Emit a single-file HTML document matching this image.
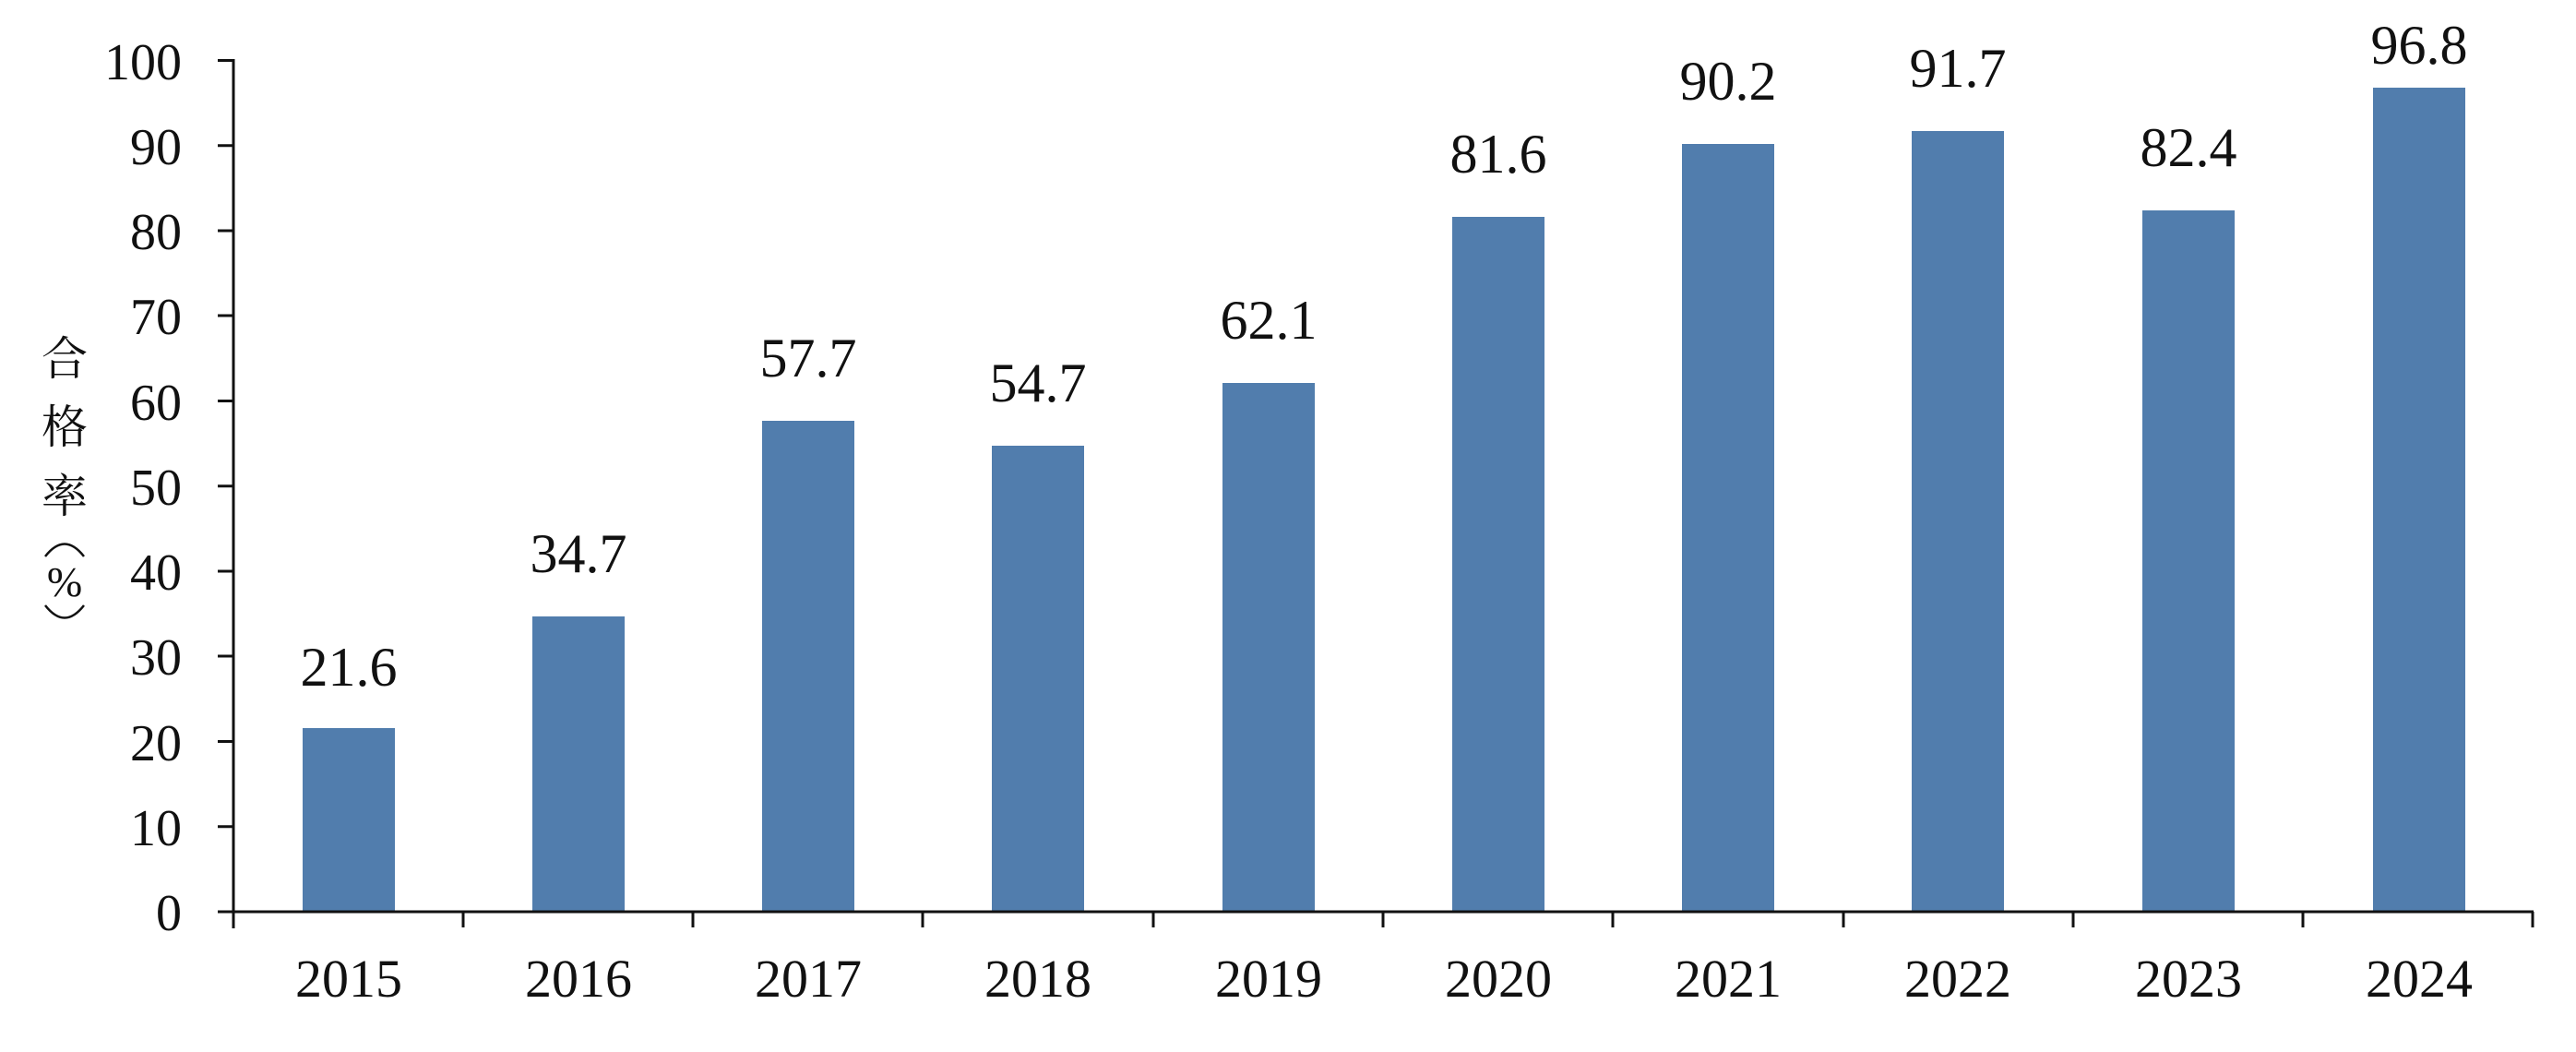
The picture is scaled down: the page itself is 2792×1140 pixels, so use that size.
<!DOCTYPE html>
<html><head><meta charset="utf-8"><style>
html,body{margin:0;padding:0;background:#fff;width:2792px;height:1140px;overflow:hidden}
svg{display:block}
text{font-family:"Liberation Serif","Noto Serif CJK SC",serif;fill:#111}
</style></head><body>
<svg width="2792" height="1140" viewBox="0 0 2792 1140" xmlns="http://www.w3.org/2000/svg">
<g fill="#517dad">
<rect x="328" y="789" width="100" height="199"/>
<rect x="577" y="668" width="100" height="320"/>
<rect x="826" y="456" width="100" height="532"/>
<rect x="1075" y="483" width="100" height="505"/>
<rect x="1325" y="415" width="100" height="573"/>
<rect x="1574" y="235" width="100" height="753"/>
<rect x="1823" y="156" width="100" height="832"/>
<rect x="2072" y="142" width="100" height="846"/>
<rect x="2322" y="228" width="100" height="760"/>
<rect x="2572" y="95" width="100" height="893"/>
</g>
<g stroke="#111" stroke-width="3" fill="none">
<line x1="253" y1="64" x2="253" y2="1006"/>
<line x1="236" y1="988" x2="2746" y2="988"/>
<line x1="236" y1="65.5" x2="253" y2="65.5"/>
<line x1="236" y1="157.7" x2="253" y2="157.7"/>
<line x1="236" y1="250" x2="253" y2="250"/>
<line x1="236" y1="342" x2="253" y2="342"/>
<line x1="236" y1="434.5" x2="253" y2="434.5"/>
<line x1="236" y1="526.7" x2="253" y2="526.7"/>
<line x1="236" y1="619" x2="253" y2="619"/>
<line x1="236" y1="711" x2="253" y2="711"/>
<line x1="236" y1="803.5" x2="253" y2="803.5"/>
<line x1="236" y1="895.7" x2="253" y2="895.7"/>
<line x1="502" y1="988" x2="502" y2="1005"/>
<line x1="751" y1="988" x2="751" y2="1005"/>
<line x1="1000" y1="988" x2="1000" y2="1005"/>
<line x1="1250" y1="988" x2="1250" y2="1005"/>
<line x1="1499" y1="988" x2="1499" y2="1005"/>
<line x1="1748" y1="988" x2="1748" y2="1005"/>
<line x1="1998" y1="988" x2="1998" y2="1005"/>
<line x1="2247" y1="988" x2="2247" y2="1005"/>
<line x1="2496" y1="988" x2="2496" y2="1005"/>
<line x1="2745" y1="988" x2="2745" y2="1005"/>
</g>
<g font-size="56" text-anchor="end">
<text x="197" y="86">100</text>
<text x="197" y="178">90</text>
<text x="197" y="270">80</text>
<text x="197" y="362">70</text>
<text x="197" y="455">60</text>
<text x="197" y="547">50</text>
<text x="197" y="639">40</text>
<text x="197" y="731">30</text>
<text x="197" y="824">20</text>
<text x="197" y="916">10</text>
<text x="197" y="1008">0</text>
</g>
<g font-size="58" text-anchor="middle">
<text x="378" y="1080">2015</text>
<text x="627" y="1080">2016</text>
<text x="876" y="1080">2017</text>
<text x="1125" y="1080">2018</text>
<text x="1375" y="1080">2019</text>
<text x="1624" y="1080">2020</text>
<text x="1873" y="1080">2021</text>
<text x="2122" y="1080">2022</text>
<text x="2372" y="1080">2023</text>
<text x="2622" y="1080">2024</text>
</g>
<g font-size="60" text-anchor="middle">
<text x="378" y="743">21.6</text>
<text x="627" y="620">34.7</text>
<text x="876" y="408">57.7</text>
<text x="1125" y="435">54.7</text>
<text x="1375" y="367">62.1</text>
<text x="1624" y="187">81.6</text>
<text x="1873" y="108">90.2</text>
<text x="2122" y="94">91.7</text>
<text x="2372" y="180">82.4</text>
<text x="2622" y="69">96.8</text>
</g>
<g font-size="50" text-anchor="middle" style='font-family:"Noto Sans CJK SC",sans-serif'>
<text x="70" y="406">合</text>
<text x="70" y="480">格</text>
<text x="70" y="555">率</text>
<text x="70" y="646" font-size="46">%</text>
</g>
<g stroke="#111" stroke-width="2.5" fill="none">
<path d="M49 603 Q70 576 91 603"/>
<path d="M49 656 Q70 683 91 656"/>
</g>
</svg>
</body></html>
